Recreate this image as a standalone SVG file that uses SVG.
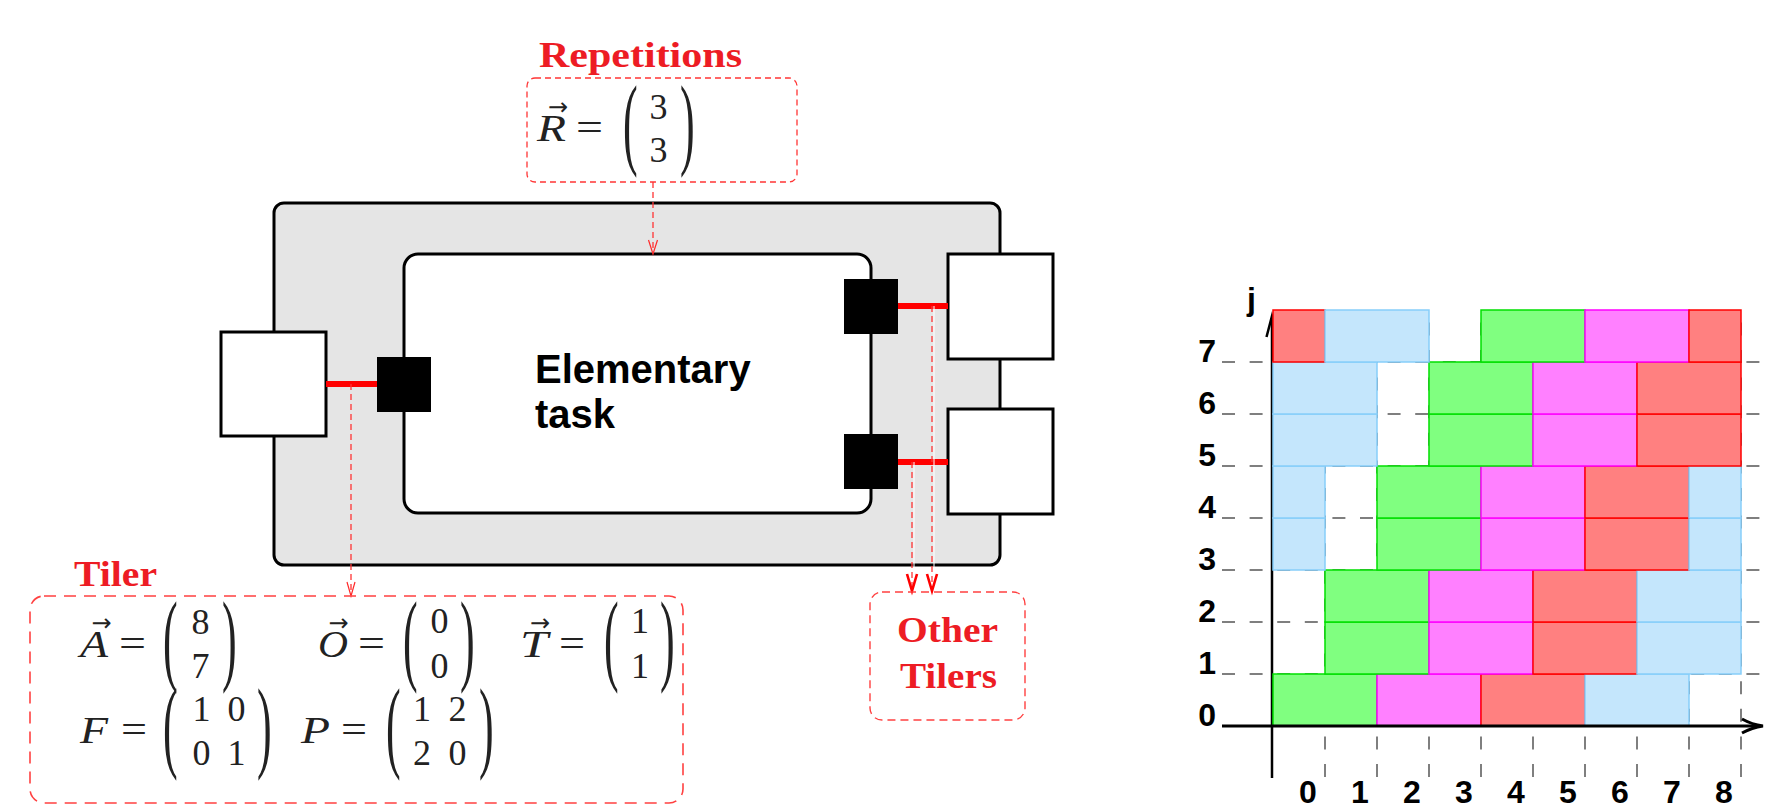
<svg xmlns="http://www.w3.org/2000/svg" width="1781" height="810" viewBox="0 0 1781 810">
<defs>
<style>
.box{fill:#fff;stroke:#000;stroke-width:3}
.port{fill:#000}
.link{stroke:#f00;stroke-width:6}
.dl{stroke:#ff3535;stroke-width:1.3;stroke-dasharray:6 4;fill:none}
.ah{stroke:#ff2a2a;stroke-width:1.2;fill:none}
.ahb{stroke:#f00;stroke-width:2.6;fill:none}
.m{font-family:"Liberation Serif",serif;font-size:36px;fill:#222}
.mi{font-family:"Liberation Serif",serif;font-size:38px;font-style:italic;fill:#222}
.eq{font-family:"Liberation Serif",serif;font-size:40px;fill:#222}
.pa{font-family:"Liberation Serif",serif;font-size:44px;fill:#222}
.vec{font-family:"DejaVu Sans",sans-serif;font-size:24px;fill:#222;text-anchor:middle}
.c{text-anchor:middle}
.h{font-family:"Liberation Serif",serif;font-weight:bold;font-size:35px;fill:#ed1c24}
.lab{font-family:"Liberation Sans",Arial,sans-serif;font-weight:bold;font-size:32px;fill:#000}
.grid{stroke:#555;stroke-width:1.5;stroke-dasharray:13 14.6}
.R{fill:#ff8080;stroke:#ff0000;stroke-width:1.5}
.G{fill:#80ff80;stroke:#00e000;stroke-width:1.5}
.M{fill:#ff80ff;stroke:#ff00ff;stroke-width:1.5}
.B{fill:#c4e6fc;stroke:#87cefa;stroke-width:1.5}
</style>
</defs>

<!-- Task structure -->
<g id="outer-task">
<rect x="274" y="203" width="726" height="362" rx="10" fill="#e5e5e5" stroke="#000" stroke-width="3"/>
</g>
<g id="elementary-task">
<rect x="404" y="254" width="467" height="259" rx="14" class="box"/>
<text x="535" y="383" font-family="Liberation Sans, Arial, sans-serif" font-weight="bold" font-size="40">Elementary</text>
<text x="535" y="428" font-family="Liberation Sans, Arial, sans-serif" font-weight="bold" font-size="40">task</text>
</g>
<g id="in-array"><rect x="221" y="332" width="105" height="104" class="box"/></g>
<g id="out-array-1"><rect x="948" y="254" width="105" height="105" class="box"/></g>
<g id="out-array-2"><rect x="948" y="409" width="105" height="105" class="box"/></g>
<g id="port-in"><rect x="377" y="357" width="54" height="55" class="port"/></g>
<g id="port-out-1"><rect x="844" y="279" width="54" height="55" class="port"/></g>
<g id="port-out-2"><rect x="844" y="434" width="54" height="55" class="port"/></g>

<!-- Connectors -->
<g id="connectors">
<line x1="326" y1="384" x2="377" y2="384" class="link"/>
<line x1="898" y1="306" x2="948" y2="306" class="link"/>
<line x1="898" y1="462" x2="948" y2="462" class="link"/>
<line x1="653" y1="182" x2="653" y2="253" class="dl"/>
<polyline points="648.5,240 653,254 657.5,240" class="ah"/>
<line x1="351" y1="384" x2="351" y2="595" class="dl"/>
<polyline points="347,582 351,596 355,582" class="ah"/>
<line x1="914" y1="462" x2="914" y2="588" stroke="#fff" stroke-width="1"/>
<line x1="934" y1="306" x2="934" y2="588" stroke="#fff" stroke-width="1"/>
<line x1="912" y1="462" x2="912" y2="589" class="dl" stroke-width="1.5"/>
<line x1="932" y1="306" x2="932" y2="589" class="dl" stroke-width="1.5"/>
<polyline points="907,574 912,591 917,574" class="ahb"/>
<polyline points="927,574 932,591 937,574" class="ahb"/>
</g>

<!-- Repetitions -->
<g id="repetitions">
<text x="539" y="67" class="h" textLength="203" lengthAdjust="spacingAndGlyphs">Repetitions</text>
<rect x="527" y="78" width="270" height="104" rx="8" class="dl"/>
<text x="537" y="141" class="mi" textLength="29" lengthAdjust="spacingAndGlyphs">R</text>
<text x="558" y="115" class="vec">→</text>
<text x="576" y="141" class="eq" textLength="27" lengthAdjust="spacingAndGlyphs">=</text>
<text class="pa" transform="translate(623,155.9) scale(1,2.32)">(</text>
<text x="658.5" y="119" class="m c">3</text>
<text x="658.5" y="162" class="m c">3</text>
<text class="pa" transform="translate(680,155.9) scale(1,2.32)">)</text>
</g>

<!-- Tiler -->
<g id="tiler">
<text x="74" y="586" class="h" textLength="83" lengthAdjust="spacingAndGlyphs">Tiler</text>
<rect x="30" y="596" width="653" height="207" rx="14" fill="none" stroke="#ff4040" stroke-width="1.6" stroke-dasharray="12 8"/>
<text x="80" y="657" class="mi" textLength="28" lengthAdjust="spacingAndGlyphs">A</text>
<text x="101.5" y="631" class="vec">→</text>
<text x="119" y="657" class="eq" textLength="27" lengthAdjust="spacingAndGlyphs">=</text>
<text class="pa" transform="translate(163,671.9) scale(1,2.32)">(</text>
<text x="200.5" y="634" class="m c">8</text>
<text x="200.5" y="678" class="m c">7</text>
<text class="pa" transform="translate(222,671.9) scale(1,2.32)">)</text>

<text x="318" y="657" class="mi" textLength="30" lengthAdjust="spacingAndGlyphs">O</text>
<text x="338.5" y="631" class="vec">→</text>
<text x="358" y="657" class="eq" textLength="27" lengthAdjust="spacingAndGlyphs">=</text>
<text class="pa" transform="translate(403,671.9) scale(1,2.32)">(</text>
<text x="439.5" y="633" class="m c">0</text>
<text x="439.5" y="678" class="m c">0</text>
<text class="pa" transform="translate(460,671.9) scale(1,2.32)">)</text>

<text x="520" y="657" class="mi" textLength="28" lengthAdjust="spacingAndGlyphs">T</text>
<text x="540" y="631" class="vec">→</text>
<text x="559" y="657" class="eq" textLength="26" lengthAdjust="spacingAndGlyphs">=</text>
<text class="pa" transform="translate(604,671.9) scale(1,2.32)">(</text>
<text x="640" y="633" class="m c">1</text>
<text x="640" y="678" class="m c">1</text>
<text class="pa" transform="translate(660,671.9) scale(1,2.32)">)</text>

<text x="80" y="743" class="mi" textLength="28" lengthAdjust="spacingAndGlyphs">F</text>
<text x="121" y="743" class="eq" textLength="26" lengthAdjust="spacingAndGlyphs">=</text>
<text class="pa" transform="translate(163,758.9) scale(1,2.32)">(</text>
<text x="201.5" y="721" class="m c">1</text>
<text x="236.5" y="721" class="m c">0</text>
<text x="201.5" y="765" class="m c">0</text>
<text x="236.5" y="765" class="m c">1</text>
<text class="pa" transform="translate(257,758.9) scale(1,2.32)">)</text>

<text x="301" y="743" class="mi" textLength="29" lengthAdjust="spacingAndGlyphs">P</text>
<text x="341" y="743" class="eq" textLength="26" lengthAdjust="spacingAndGlyphs">=</text>
<text class="pa" transform="translate(386,758.9) scale(1,2.32)">(</text>
<text x="422" y="721" class="m c">1</text>
<text x="457.5" y="721" class="m c">2</text>
<text x="422" y="765" class="m c">2</text>
<text x="457.5" y="765" class="m c">0</text>
<text class="pa" transform="translate(479,758.9) scale(1,2.32)">)</text>
</g>

<!-- Other Tilers -->
<g id="other-tilers">
<rect x="870" y="592" width="155" height="128" rx="12" fill="none" stroke="#ff4040" stroke-width="1.4" stroke-dasharray="8 5"/>
<text x="897" y="642" class="h" textLength="101" lengthAdjust="spacingAndGlyphs">Other</text>
<text x="900" y="688" class="h" textLength="97" lengthAdjust="spacingAndGlyphs">Tilers</text>
</g>

<!-- Tiling chart -->
<g id="chart">
<g id="grid">
<line x1="1222" y1="674" x2="1770" y2="674" class="grid"/>
<line x1="1222" y1="622" x2="1770" y2="622" class="grid"/>
<line x1="1222" y1="570" x2="1770" y2="570" class="grid"/>
<line x1="1222" y1="518" x2="1770" y2="518" class="grid"/>
<line x1="1222" y1="466" x2="1770" y2="466" class="grid"/>
<line x1="1222" y1="414" x2="1770" y2="414" class="grid"/>
<line x1="1222" y1="362" x2="1770" y2="362" class="grid"/>
<line x1="1325" y1="777" x2="1325" y2="310" class="grid"/>
<line x1="1377" y1="777" x2="1377" y2="310" class="grid"/>
<line x1="1429" y1="777" x2="1429" y2="310" class="grid"/>
<line x1="1481" y1="777" x2="1481" y2="310" class="grid"/>
<line x1="1533" y1="777" x2="1533" y2="310" class="grid"/>
<line x1="1585" y1="777" x2="1585" y2="310" class="grid"/>
<line x1="1637" y1="777" x2="1637" y2="310" class="grid"/>
<line x1="1689" y1="777" x2="1689" y2="310" class="grid"/>
<line x1="1741" y1="777" x2="1741" y2="310" class="grid"/>
</g>
<g id="y-axis">
<line x1="1272" y1="778" x2="1272" y2="318" stroke="#000" stroke-width="2.5"/>
<polyline points="1266.5,337 1272,316 1277.5,337" fill="none" stroke="#000" stroke-width="2.5"/>
</g>
<g id="tiles">
<rect x="1273" y="674" width="104" height="52" class="G"/>
<rect x="1377" y="674" width="104" height="52" class="M"/>
<rect x="1481" y="674" width="104" height="52" class="R"/>
<rect x="1585" y="674" width="104" height="52" class="B"/>
<rect x="1325" y="622" width="104" height="52" class="G"/>
<rect x="1429" y="622" width="104" height="52" class="M"/>
<rect x="1533" y="622" width="104" height="52" class="R"/>
<rect x="1637" y="622" width="104" height="52" class="B"/>
<rect x="1325" y="570" width="104" height="52" class="G"/>
<rect x="1429" y="570" width="104" height="52" class="M"/>
<rect x="1533" y="570" width="104" height="52" class="R"/>
<rect x="1637" y="570" width="104" height="52" class="B"/>
<rect x="1273" y="518" width="52" height="52" class="B"/>
<rect x="1377" y="518" width="104" height="52" class="G"/>
<rect x="1481" y="518" width="104" height="52" class="M"/>
<rect x="1585" y="518" width="104" height="52" class="R"/>
<rect x="1689" y="518" width="52" height="52" class="B"/>
<rect x="1273" y="466" width="52" height="52" class="B"/>
<rect x="1377" y="466" width="104" height="52" class="G"/>
<rect x="1481" y="466" width="104" height="52" class="M"/>
<rect x="1585" y="466" width="104" height="52" class="R"/>
<rect x="1689" y="466" width="52" height="52" class="B"/>
<rect x="1273" y="414" width="104" height="52" class="B"/>
<rect x="1429" y="414" width="104" height="52" class="G"/>
<rect x="1533" y="414" width="104" height="52" class="M"/>
<rect x="1637" y="414" width="104" height="52" class="R"/>
<rect x="1273" y="362" width="104" height="52" class="B"/>
<rect x="1429" y="362" width="104" height="52" class="G"/>
<rect x="1533" y="362" width="104" height="52" class="M"/>
<rect x="1637" y="362" width="104" height="52" class="R"/>
<rect x="1273" y="310" width="52" height="52" class="R"/>
<rect x="1325" y="310" width="104" height="52" class="B"/>
<rect x="1481" y="310" width="104" height="52" class="G"/>
<rect x="1585" y="310" width="104" height="52" class="M"/>
<rect x="1689" y="310" width="52" height="52" class="R"/>
</g>
<g id="x-axis">
<line x1="1222" y1="726" x2="1760" y2="726" stroke="#000" stroke-width="3"/>
<path d="M1742,719 Q1752,724.5 1763,726 Q1752,727.5 1742,733" fill="none" stroke="#000" stroke-width="3"/>
</g>
<g id="labels" class="lab">
<text x="1247" y="310">j</text>
<text x="1216" y="726" text-anchor="end">0</text>
<text x="1216" y="674" text-anchor="end">1</text>
<text x="1216" y="622" text-anchor="end">2</text>
<text x="1216" y="570" text-anchor="end">3</text>
<text x="1216" y="518" text-anchor="end">4</text>
<text x="1216" y="466" text-anchor="end">5</text>
<text x="1216" y="414" text-anchor="end">6</text>
<text x="1216" y="362" text-anchor="end">7</text>
<text x="1308" y="803" text-anchor="middle">0</text>
<text x="1360" y="803" text-anchor="middle">1</text>
<text x="1412" y="803" text-anchor="middle">2</text>
<text x="1464" y="803" text-anchor="middle">3</text>
<text x="1516" y="803" text-anchor="middle">4</text>
<text x="1568" y="803" text-anchor="middle">5</text>
<text x="1620" y="803" text-anchor="middle">6</text>
<text x="1672" y="803" text-anchor="middle">7</text>
<text x="1724" y="803" text-anchor="middle">8</text>
</g>
</g>
</svg>
